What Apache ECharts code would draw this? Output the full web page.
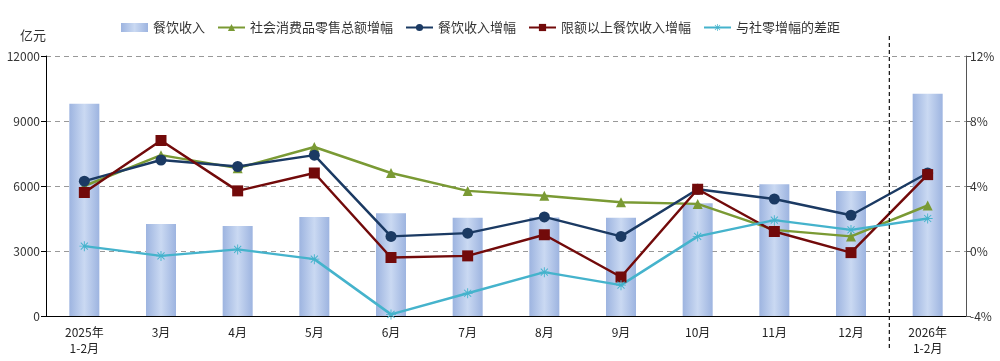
<!DOCTYPE html>
<html><head><meta charset="utf-8">
<script src="https://cdn.jsdelivr.net/npm/echarts@6/dist/echarts.min.js"></script>
<style>html,body{margin:0;padding:0;background:#fff}#c{width:1000px;height:361px}</style>
</head><body><div id="c"></div>
<script>
const categories = ['2025年\n1-2月','3月','4月','5月','6月','7月','8月','9月','10月','11月','12月','2026年\n1-2月'];
const revenue = [9800, 4250, 4150, 4570, 4740, 4540, 4550, 4540, 5200, 6080, 5770, 10260];
const retailGrowth = [4.0, 5.9, 5.1, 6.4, 4.8, 3.7, 3.4, 3.0, 2.9, 1.3, 0.9, 2.8];
const cateringGrowth = [4.3, 5.6, 5.2, 5.9, 0.9, 1.1, 2.1, 0.9, 3.8, 3.2, 2.2, 4.8];
const aboveQuotaGrowth = [3.6, 6.8, 3.7, 4.8, -0.4, -0.3, 1.0, -1.6, 3.8, 1.2, -0.1, 4.7];
const gapGrowth = [0.3, -0.3, 0.1, -0.5, -3.9, -2.6, -1.3, -2.1, 0.9, 1.9, 1.3, 2.0];
const leftTicks = {min: 0, max: 12000, interval: 3000};
const rightTicks = {min: -4, max: 12, interval: 4};

const font = '"Noto Sans CJK SC", "Noto Sans", sans-serif';
const chart = echarts.init(document.getElementById('c'), null, {renderer: 'canvas'});
const asterisk = 'path://M4.5,0h1v4.1l2.9-2.9l0.7,0.7l-2.9,2.9h4.1v1h-4.1l2.9,2.9l-0.7,0.7l-2.9-2.9v4.1h-1v-4.1l-2.9,2.9l-0.7-0.7l2.9-2.9h-4.1v-1h4.1l-2.9-2.9l0.7-0.7l2.9,2.9z';
const option = {
  animation: false,
  textStyle: {fontFamily: font},
  legend: {
    left: 116, top: 16, itemGap: 12, itemWidth: 27, itemHeight: 9,
    textStyle: {fontSize: 13, color: '#333', fontFamily: font},
    data: [
      {name: '餐饮收入', icon: 'rect'},
      {name: '社会消费品零售总额增幅'},
      {name: '餐饮收入增幅'},
      {name: '限额以上餐饮收入增幅'},
      {name: '与社零增幅的差距'}
    ]
  },
  grid: {left: 46, right: 34, top: 56, bottom: 45},
  xAxis: {
    type: 'category', data: categories,
    axisLine: {lineStyle: {color: '#000', width: 1}},
    axisTick: {length: 5, lineStyle: {color: '#000'}},
    axisLabel: {fontSize: 12, color: '#222', lineHeight: 16, margin: 8, interval: 0}
  },
  yAxis: [
    {
      type: 'value', min: leftTicks.min, max: leftTicks.max, interval: leftTicks.interval,
      name: '亿元', nameLocation: 'end', nameGap: 14,
      nameTextStyle: {fontSize: 13, color: '#333', align: 'right', padding: [0, 0, 0, 0]},
      axisLine: {show: true, lineStyle: {color: '#000'}},
      axisTick: {show: true, length: 5, lineStyle: {color: '#000'}},
      axisLabel: {fontSize: 12, color: '#333', margin: 6, formatter: function (v) { return String(v); }},
      splitLine: {lineStyle: {type: [5, 4], color: '#999'}}
    },
    {
      type: 'value', min: rightTicks.min, max: rightTicks.max, interval: rightTicks.interval,
      position: 'right',
      axisLine: {show: true, lineStyle: {color: '#555'}},
      axisTick: {show: true, length: 5, lineStyle: {color: '#555'}},
      axisLabel: {fontSize: 12, color: '#333', margin: 4, formatter: '{value}%'},
      splitLine: {show: false}
    }
  ],
  series: [
    {
      name: '餐饮收入', type: 'bar', yAxisIndex: 0, data: revenue, barWidth: 30,
      itemStyle: {
        color: new echarts.graphic.LinearGradient(0, 0, 1, 0, [
          {offset: 0, color: '#9db4e0'}, {offset: 0.5, color: '#cad9f2'}, {offset: 1, color: '#9db4e0'}
        ])
      }
    },
    {
      name: '社会消费品零售总额增幅', type: 'line', yAxisIndex: 1, data: retailGrowth,
      symbol: 'triangle', symbolSize: 10,
      lineStyle: {color: '#7a9a34', width: 2.5}, itemStyle: {color: '#7a9a34'}
    },
    {
      name: '餐饮收入增幅', type: 'line', yAxisIndex: 1, data: cateringGrowth,
      symbol: 'circle', symbolSize: 11,
      lineStyle: {color: '#1b3a63', width: 2.5}, itemStyle: {color: '#1b3a63'}
    },
    {
      name: '限额以上餐饮收入增幅', type: 'line', yAxisIndex: 1, data: aboveQuotaGrowth,
      symbol: 'rect', symbolSize: 11,
      lineStyle: {color: '#720a0a', width: 2.5}, itemStyle: {color: '#720a0a'}
    },
    {
      name: '与社零增幅的差距', type: 'line', yAxisIndex: 1, data: gapGrowth,
      symbol: asterisk, symbolSize: 10,
      lineStyle: {color: '#45b3cc', width: 2.5}, itemStyle: {color: '#45b3cc'}
    }
  ]
};
chart.setOption(option);
// dashed divider between the 2025 months and 2026
const xa = chart.convertToPixel({xAxisIndex: 0}, 10);
const xb = chart.convertToPixel({xAxisIndex: 0}, 11);
const xm = (xa + xb) / 2;
chart.setOption({
  graphic: [{
    type: 'line', silent: true, z: 10,
    shape: {x1: xm, y1: 36, x2: xm, y2: 350},
    style: {stroke: '#111', lineWidth: 1.2, lineDash: [4, 3]}
  }]
});
</script></body></html>
